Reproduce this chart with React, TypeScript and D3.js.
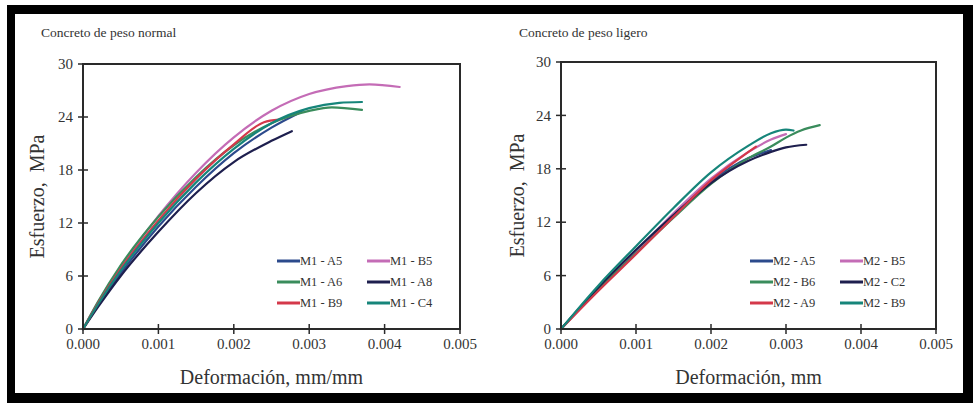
import React, { useEffect, useRef } from 'react';
import * as d3 from 'd3';

// strain (mm/mm) / stress (MPa)
const xTicks = [0, 0.001, 0.002, 0.003, 0.004, 0.005];
const yTicks = [0, 6, 12, 18, 24, 30];

const m1Names = ['M1 - A5', 'M1 - B5', 'M1 - A6', 'M1 - A8', 'M1 - B9', 'M1 - C4'];
const m1A5 = [[0, 0], [0.0002, 2.7], [0.0005, 6.3], [0.001, 11.6], [0.0015, 16.1], [0.002, 19.9], [0.0025, 22.8], [0.0029, 24.6]];
const m1B5 = [[0, 0], [0.0002, 3.0], [0.0005, 7.0], [0.001, 12.8], [0.0015, 17.7], [0.002, 21.7], [0.0025, 24.7], [0.003, 26.6], [0.0035, 27.5], [0.0038, 27.7], [0.0042, 27.4]];
const m1A6 = [[0, 0], [0.0002, 3.1], [0.0005, 7.2], [0.001, 12.7], [0.0015, 17.2], [0.002, 20.8], [0.0025, 23.3], [0.003, 24.7], [0.0033, 25.1], [0.0037, 24.8]];
const m1A8 = [[0, 0], [0.0002, 2.5], [0.0005, 6.0], [0.001, 11.0], [0.0015, 15.4], [0.002, 18.9], [0.0025, 21.3], [0.00277, 22.4]];
const m1B9 = [[0, 0], [0.0002, 2.9], [0.0005, 6.8], [0.001, 12.3], [0.0015, 17.0], [0.002, 20.9], [0.0024, 23.4], [0.0026, 23.7]];
const m1C4 = [[0, 0], [0.0002, 2.8], [0.0005, 6.6], [0.001, 12.0], [0.0015, 16.6], [0.002, 20.4], [0.0025, 23.3], [0.003, 25.0], [0.0034, 25.6], [0.0037, 25.7]];

const m2Names = ['M2 - A5', 'M2 - B5', 'M2 - B6', 'M2 - C2', 'M2 - A9', 'M2 - B9'];
const m2A5 = [[0, 0], [0.0005, 4.6], [0.001, 8.8], [0.0015, 12.9], [0.002, 16.6], [0.0025, 19.2], [0.0028, 20.1]];
const m2B5 = [[0, 0], [0.0005, 4.5], [0.001, 8.7], [0.0015, 13.0], [0.002, 16.9], [0.0025, 19.9], [0.0028, 21.3], [0.003, 21.9]];
const m2B6 = [[0, 0], [0.0005, 4.5], [0.001, 8.5], [0.0015, 12.5], [0.002, 16.3], [0.0025, 19.2], [0.0028, 20.5], [0.003, 21.5], [0.0032, 22.3], [0.00345, 22.9]];
const m2C2 = [[0, 0], [0.0005, 4.7], [0.001, 8.9], [0.0015, 12.8], [0.002, 16.4], [0.0025, 18.9], [0.0028, 19.9], [0.003, 20.4], [0.00327, 20.7]];
const m2A9 = [[0, 0], [0.0005, 4.3], [0.001, 8.4], [0.0015, 12.6], [0.002, 16.7], [0.0025, 19.9], [0.0026, 20.5]];
const m2B9 = [[0, 0], [0.0005, 4.9], [0.001, 9.3], [0.0015, 13.6], [0.002, 17.6], [0.0025, 20.6], [0.0028, 22.0], [0.003, 22.4], [0.0031, 22.3]];

const colors = ['#2c4a8c', '#c46cb6', '#3a8c5c', '#1e1f4e', '#d4384a', '#16857a'];
const font = '"Liberation Serif", "Times New Roman", serif';

const panels = [
  { left: 83, right: 460, top: 64, bottom: 329, title: 'Concreto de peso normal', xLabel: 'Deformación, mm/mm', names: m1Names, series: [m1A5, m1B5, m1A6, m1A8, m1B9, m1C4], legendX: 277, yTitleX: 44 },
  { left: 561, right: 936, top: 62, bottom: 329, title: 'Concreto de peso ligero', xLabel: 'Deformación, mm', names: m2Names, series: [m2A5, m2B5, m2B6, m2C2, m2A9, m2B9], legendX: 750, yTitleX: 524 },
];

const App = () => {
  const ref = useRef(null);

  useEffect(() => {
    const width = 973;
    const height = 403;
    d3.select(ref.current).selectAll('*').remove();
    const svg = d3.select(ref.current)
      .append('svg')
      .attr('width', width)
      .attr('height', height)
      .style('position', 'absolute')
      .style('left', 0)
      .style('top', 0)
      .style('font-family', font);

    // black frame
    svg.append('rect').attr('x', 7).attr('y', 5).attr('width', width - 7).attr('height', height - 5).attr('fill', '#000');
    svg.append('rect').attr('x', 15).attr('y', 14).attr('width', 948).attr('height', 379).attr('fill', '#fff');

    panels.forEach(p => {
      const x = d3.scaleLinear().domain([0, 0.005]).range([p.left, p.right]);
      const y = d3.scaleLinear().domain([0, 30]).range([p.bottom, p.top]);
      const g = svg.append('g');

      g.append('text')
        .attr('x', p.left - 42)
        .attr('y', 37)
        .attr('font-size', 13.5)
        .attr('fill', '#333')
        .text(p.title);

      const line = d3.line()
        .x(d => x(d[0]))
        .y(d => y(d[1]))
        .curve(d3.curveMonotoneX);

      p.series.forEach((s, i) => {
        g.append('path')
          .attr('d', line(s))
          .attr('fill', 'none')
          .attr('stroke', colors[i])
          .attr('stroke-width', 2.2)
          .attr('stroke-linecap', 'round');
      });

      // plot box
      g.append('rect')
        .attr('x', p.left)
        .attr('y', p.top)
        .attr('width', p.right - p.left)
        .attr('height', p.bottom - p.top)
        .attr('fill', 'none')
        .attr('stroke', '#2a2a2a')
        .attr('stroke-width', 2);

      xTicks.forEach(t => {
        g.append('line')
          .attr('x1', x(t)).attr('x2', x(t))
          .attr('y1', p.bottom - 5).attr('y2', p.bottom + 5)
          .attr('stroke', '#2a2a2a').attr('stroke-width', 1.5);
        g.append('text')
          .attr('x', x(t))
          .attr('y', p.bottom + 20)
          .attr('text-anchor', 'middle')
          .attr('font-size', 15)
          .attr('fill', '#333')
          .text(d3.format('.3f')(t));
      });

      yTicks.forEach(t => {
        g.append('line')
          .attr('x1', p.left - 5).attr('x2', p.left + 5)
          .attr('y1', y(t)).attr('y2', y(t))
          .attr('stroke', '#2a2a2a').attr('stroke-width', 1.5);
        g.append('text')
          .attr('x', p.left - 10)
          .attr('y', y(t))
          .attr('dy', '0.35em')
          .attr('text-anchor', 'end')
          .attr('font-size', 15)
          .attr('fill', '#333')
          .text(t);
      });

      g.append('text')
        .attr('x', (p.left + p.right) / 2)
        .attr('y', 384)
        .attr('text-anchor', 'middle')
        .attr('font-size', 20)
        .attr('fill', '#333')
        .text(p.xLabel);

      g.append('text')
        .attr('transform', `translate(${p.yTitleX}, ${(p.top + p.bottom) / 2}) rotate(-90)`)
        .attr('text-anchor', 'middle')
        .attr('font-size', 20)
        .attr('fill', '#333')
        .style('white-space', 'pre')
        .text('Esfuerzo,  MPa');

      // legend, 2 columns x 3 rows
      p.names.forEach((name, i) => {
        const col = i % 2;
        const row = Math.floor(i / 2);
        const lx = p.legendX + col * 90;
        const ly = 261 + row * 21;
        g.append('line')
          .attr('x1', lx).attr('x2', lx + 23)
          .attr('y1', ly).attr('y2', ly)
          .attr('stroke', colors[i])
          .attr('stroke-width', 3);
        g.append('text')
          .attr('x', lx + 23)
          .attr('y', ly)
          .attr('dy', '0.35em')
          .attr('font-size', 12.5)
          .attr('fill', '#333')
          .text(name);
      });
    });
  }, []);

  return <div ref={ref}></div>;
};

export default App;
